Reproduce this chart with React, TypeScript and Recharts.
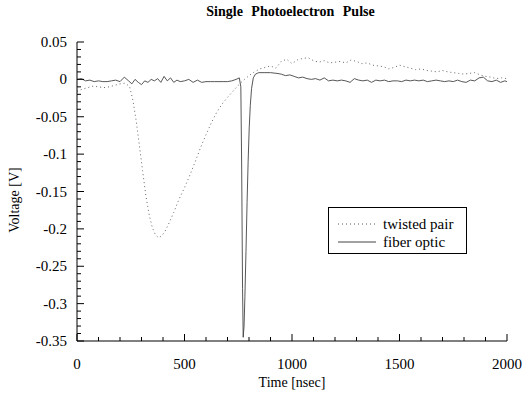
import React from "react";
import { LineChart, Line, XAxis, YAxis, Legend } from "recharts";

const FONT = "'Liberation Serif', 'Times New Roman', Times, serif";

// twisted pair (dotted) trace, time in nsec, voltage in V
const twistedTime = [
  0, 25, 50, 75, 100, 125, 150, 175, 200, 225, 245, 260, 275, 290, 305, 320, 335, 350, 365, 380,
  395, 410, 430, 450, 475, 500, 525, 550, 575, 600, 625, 650, 675, 700, 725, 750, 775, 800, 825,
  850, 875, 900, 925, 950, 975, 1000, 1025, 1050, 1075, 1100, 1125, 1150, 1175, 1200, 1225, 1250,
  1275, 1300, 1325, 1350, 1375, 1400, 1425, 1450, 1475, 1500, 1525, 1550, 1575, 1600, 1625, 1650,
  1675, 1700, 1725, 1750, 1775, 1800, 1825, 1850, 1875, 1900, 1925, 1950, 1975, 2000,
];
const twistedVolt = [
  -0.016, -0.013, -0.011, -0.009, -0.01, -0.011, -0.01, -0.008, -0.006, -0.005, -0.01, -0.028,
  -0.055, -0.088, -0.122, -0.155, -0.18, -0.198, -0.208, -0.212, -0.209, -0.203, -0.191, -0.178,
  -0.16, -0.145, -0.128, -0.11, -0.091, -0.074, -0.058, -0.044, -0.033, -0.024, -0.016, -0.008,
  -0.001, 0.005, 0.01, 0.014, 0.016, 0.018, 0.015, 0.024, 0.027, 0.021, 0.026, 0.028, 0.029, 0.025,
  0.023, 0.025, 0.022, 0.023, 0.024, 0.022, 0.026, 0.024, 0.021, 0.022, 0.019, 0.018, 0.017, 0.014,
  0.016, 0.019, 0.017, 0.015, 0.013, 0.014, 0.012, 0.011, 0.01, 0.012, 0.01, 0.009, 0.008, 0.007,
  0.008, 0.009, 0.006, 0.004, 0.003, 0.001, 0.002, 0.001,
];

// fiber optic (solid) trace
const fiberTime = [
  0, 20, 40, 60, 80, 100, 120, 140, 160, 180, 200, 220, 240, 255, 270, 285, 300, 315, 330, 345,
  360, 375, 390, 405, 420, 435, 450, 465, 480, 500, 520, 540, 560, 580, 600, 620, 640, 660, 680,
  700, 720, 740, 755, 762, 766, 770, 773, 777, 781, 786, 791, 796, 801, 806, 812, 820, 830, 845,
  870, 900, 930, 950, 970, 990, 1010, 1030, 1050, 1070, 1090, 1110, 1130, 1150, 1170, 1190, 1210,
  1230, 1250, 1270, 1290, 1310, 1330, 1350, 1370, 1390, 1410, 1430, 1450, 1470, 1490, 1510, 1530,
  1550, 1570, 1590, 1610, 1630, 1650, 1670, 1690, 1710, 1730, 1750, 1770, 1790, 1810, 1830, 1850,
  1870, 1890, 1910, 1930, 1950, 1970, 1990, 2000,
];
const fiberVolt = [
  0.0, 0.001, -0.002, -0.001, -0.003, -0.002, -0.003, -0.003, -0.002, -0.001, -0.003, 0.003, -0.002,
  -0.006, 0.0, -0.004, -0.007, -0.002, -0.004, 0.0, -0.002, 0.001, -0.004, 0.004, -0.002, 0.002,
  -0.004, -0.001, -0.003, -0.002, 0.0, -0.004, -0.001, -0.004, -0.003, -0.003, -0.003, -0.003,
  -0.003, -0.003, -0.002, 0.0, 0.002, -0.01, -0.12, -0.28, -0.345, -0.33, -0.29, -0.23, -0.165,
  -0.11, -0.065, -0.035, -0.012, 0.002, 0.007, 0.009, 0.009, 0.009, 0.008, 0.007, 0.005, 0.006,
  0.004, 0.002, 0.003, 0.001, 0.0, 0.001, -0.001, 0.002, -0.002, -0.001, -0.002, -0.001, -0.002,
  -0.004, 0.001, -0.001, -0.002, -0.001, -0.004, -0.001, -0.002, -0.001, -0.003, -0.002, -0.002,
  -0.003, -0.001, -0.002, -0.001, -0.002, -0.001, -0.003, -0.002, -0.001, -0.002, -0.003, -0.002,
  -0.003, -0.001, -0.003, -0.004, -0.001, -0.002, 0.002, 0.003, -0.002, -0.003, -0.001, -0.004,
  -0.002, -0.003,
];

const xTicks = Array.from({ length: 21 }, (_, i) => i * 100);
const yTicks = Array.from({ length: 41 }, (_, i) => Math.round((-0.35 + i * 0.01) * 100) / 100);

const twistedData = twistedTime.map((t, i) => ({ t, v: twistedVolt[i] }));
const fiberData = fiberTime.map((t, i) => ({ t, v: fiberVolt[i] }));

const isMajorX = (v: number) => v % 500 === 0;
const isMajorY = (v: number) => Math.round(v * 100) % 5 === 0;

const BottomTick = (props: any) => {
  const { x, y, payload } = props;
  const major = isMajorX(payload.value);
  return (
    <g>
      <line x1={x} x2={x} y1={y} y2={y - (major ? 7 : 4)} stroke="#000" />
      {major && (
        <text x={x} y={y + 28} textAnchor="middle" fontSize={15} fontFamily={FONT} fill="#000">
          {payload.value}
        </text>
      )}
    </g>
  );
};

const TopTick = (props: any) => {
  const { x, y, payload } = props;
  const major = isMajorX(payload.value);
  return <line x1={x} x2={x} y1={y} y2={y + (major ? 7 : 4)} stroke="#000" />;
};

const LeftTick = (props: any) => {
  const { x, y, payload } = props;
  const major = isMajorY(payload.value);
  return (
    <g>
      <line x1={x} x2={x + (major ? 7 : 4)} y1={y} y2={y} stroke="#000" />
      {major && (
        <text x={x - 10} y={y + 5} textAnchor="end" fontSize={15} fontFamily={FONT} fill="#000">
          {payload.value === 0 ? "0" : String(payload.value)}
        </text>
      )}
    </g>
  );
};

const RightTick = (props: any) => {
  const { x, y, payload } = props;
  const major = isMajorY(payload.value);
  return <line x1={x} x2={x - (major ? 7 : 4)} y1={y} y2={y} stroke="#000" />;
};

const LegendBox = () => (
  <div
    style={{
      border: "1px solid #000",
      boxSizing: "border-box",
      height: 47,
      padding: "7px 0 0 9px",
      fontFamily: FONT,
      fontSize: 15,
      lineHeight: "18px",
      background: "#fff",
    }}
  >
    <div style={{ display: "flex", alignItems: "center" }}>
      <svg width={38} height={10} style={{ marginRight: 7 }}>
        <line x1={0} x2={38} y1={5} y2={5} stroke="#555" strokeDasharray="1 3" />
      </svg>
      twisted pair
    </div>
    <div style={{ display: "flex", alignItems: "center" }}>
      <svg width={38} height={10} style={{ marginRight: 7 }}>
        <line x1={0} x2={38} y1={5} y2={5} stroke="#444" />
      </svg>
      fiber optic
    </div>
  </div>
);

export default function App() {
  return (
    <div style={{ position: "absolute", left: 0, top: 0, width: 523, height: 397, background: "#fff" }}>
      <div
        style={{
          position: "absolute",
          left: 0,
          top: 4,
          width: 581,
          textAlign: "center",
          fontFamily: FONT,
          fontWeight: "bold",
          fontSize: 14,
          lineHeight: "16px",
          wordSpacing: 5,
        }}
      >
        Single Photoelectron Pulse
      </div>
      <LineChart width={523} height={397} margin={{ top: 42, right: 16, bottom: 0, left: 0 }}>
        <XAxis
          xAxisId="bottom"
          dataKey="t"
          type="number"
          domain={[0, 2000]}
          allowDataOverflow
          ticks={xTicks}
          interval={0}
          height={56}
          tickSize={0}
          tickMargin={0}
          tickLine={false}
          axisLine={{ stroke: "#000" }}
          tick={<BottomTick />}
        />
        <XAxis
          xAxisId="top"
          orientation="top"
          dataKey="t"
          type="number"
          domain={[0, 2000]}
          allowDataOverflow
          ticks={xTicks}
          interval={0}
          height={0}
          tickSize={0}
          tickMargin={0}
          tickLine={false}
          axisLine={{ stroke: "#000" }}
          tick={<TopTick />}
        />
        <YAxis
          yAxisId="left"
          type="number"
          domain={[-0.35, 0.05]}
          allowDataOverflow
          ticks={yTicks}
          interval={0}
          width={77}
          tickSize={0}
          tickMargin={0}
          tickLine={false}
          axisLine={{ stroke: "#000" }}
          tick={<LeftTick />}
        />
        <YAxis
          yAxisId="right"
          orientation="right"
          type="number"
          domain={[-0.35, 0.05]}
          allowDataOverflow
          ticks={yTicks}
          interval={0}
          width={0}
          tickSize={0}
          tickMargin={0}
          tickLine={false}
          axisLine={{ stroke: "#000" }}
          tick={<RightTick />}
        />
        <Legend
          layout="horizontal"
          verticalAlign="middle"
          align="center"
          wrapperStyle={{ position: "absolute", left: 328, top: 207, width: 139 }}
          content={<LegendBox />}
        />
        <Line
          name="twisted pair"
          data={twistedData}
          dataKey="v"
          xAxisId="bottom"
          yAxisId="left"
          stroke="#666"
          strokeWidth={1}
          strokeDasharray="1 3"
          dot={false}
          isAnimationActive={false}
          type="linear"
        />
        <Line
          name="fiber optic"
          data={fiberData}
          dataKey="v"
          xAxisId="bottom"
          yAxisId="left"
          stroke="#444"
          strokeWidth={0.9}
          dot={false}
          isAnimationActive={false}
          type="linear"
        />
      </LineChart>
      <div
        style={{
          position: "absolute",
          left: 0,
          top: 375,
          width: 584,
          textAlign: "center",
          fontFamily: FONT,
          fontSize: 14,
          lineHeight: "16px",
        }}
      >
        Time [nsec]
      </div>
      <div
        style={{
          position: "absolute",
          left: 15,
          top: 200,
          transform: "translate(-50%, -50%) rotate(-90deg)",
          whiteSpace: "nowrap",
          fontFamily: FONT,
          fontSize: 14,
          lineHeight: "16px",
        }}
      >
        Voltage [V]
      </div>
    </div>
  );
}
